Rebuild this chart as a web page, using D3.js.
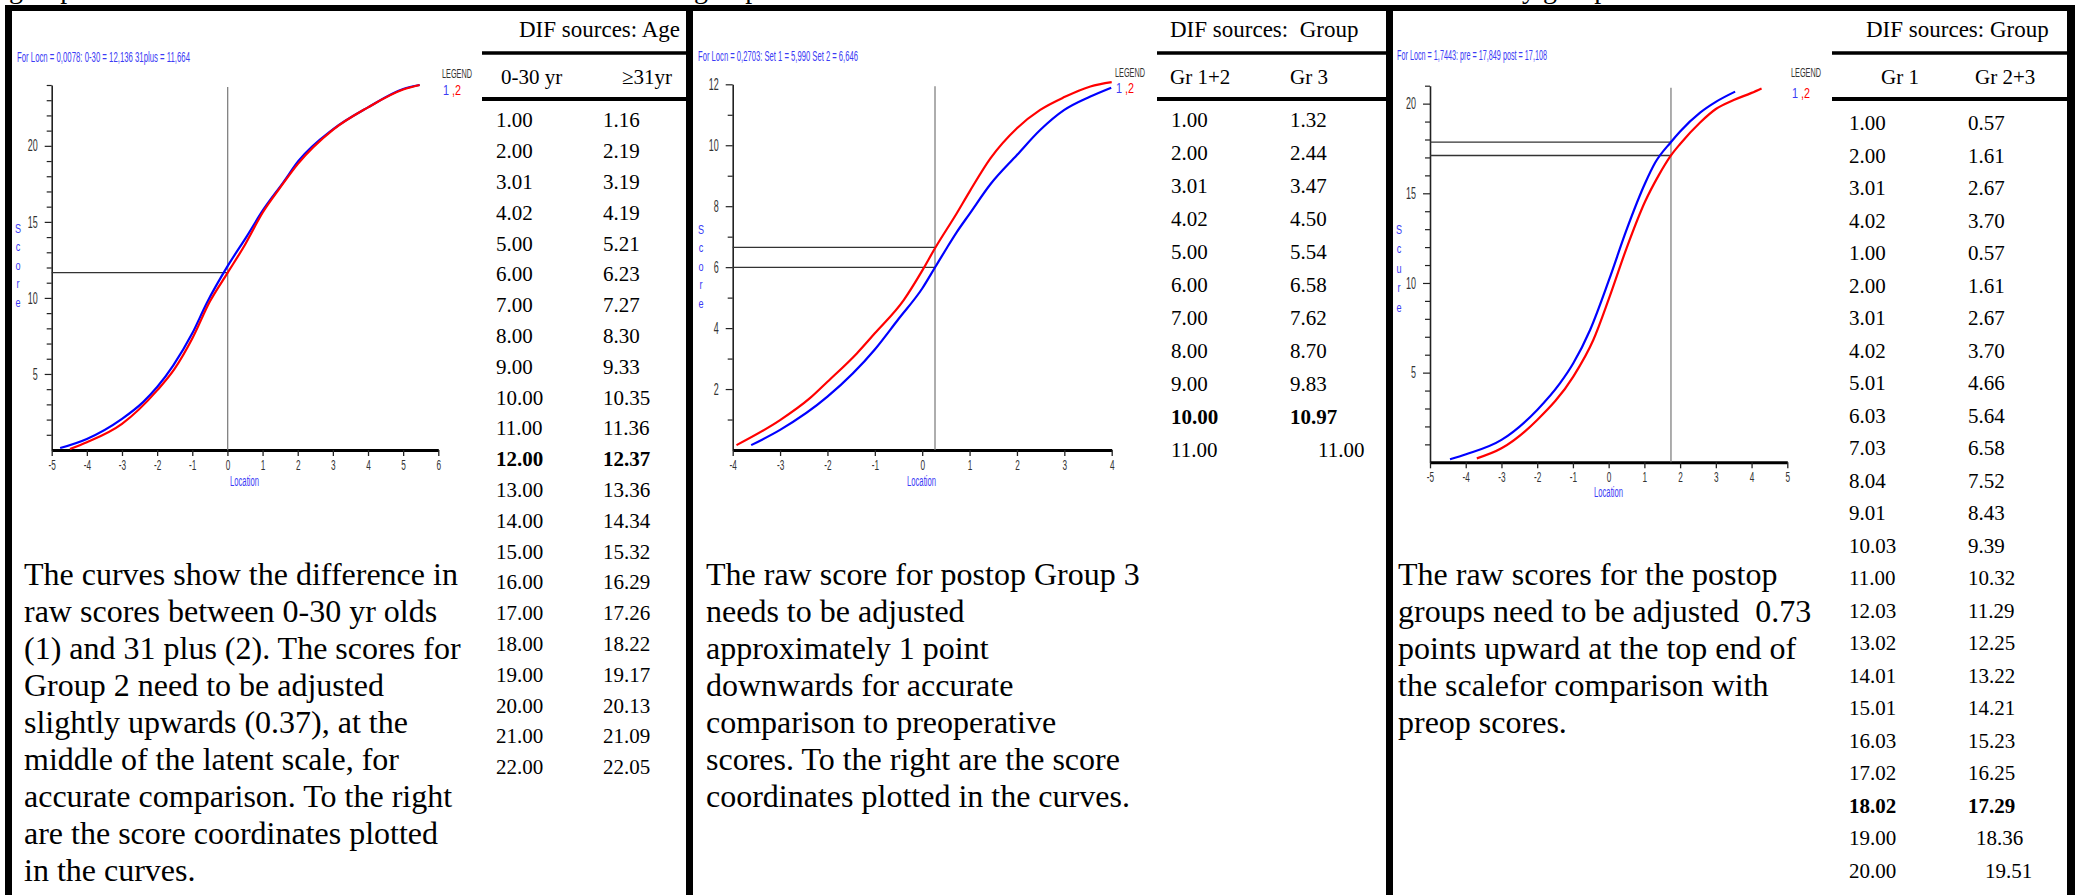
<!DOCTYPE html>
<html>
<head>
<meta charset="utf-8">
<script src="https://cdn.jsdelivr.net/npm/d3@7"></script>
<style>
  body { margin: 0; background: #fff; }
  svg { display: block; }
</style>
</head>
<body>
<svg id="chart"></svg>
<script>
const W = 2075, H = 895;
const serif = "'Liberation Serif', 'Times New Roman', serif";
const sans = "'Liberation Sans', Arial, sans-serif";
const blue = "#0000ff", red = "#ff0000", labelBlue = "#3b3bf5";

// ---------- panel 1: age (0-30 vs 31plus) ----------
const ageCurve1 = [[-4.76,0.13],[-4,0.73],[-3,2.05],[-2.4,3.15],[-2,4.14],[-1.54,5.57],[-1,7.67],[-0.59,9.65],[0,12.07],[0.55,14.05],[1.02,15.8],[1.59,17.6],[2.02,19.0],[3.01,21.1],[4,22.53],[5,23.74],[5.47,24.0]];
const ageCurve2 = [[-4.48,0.07],[-4,0.51],[-3,1.72],[-2,3.92],[-1.5,5.35],[-1,7.33],[-0.5,9.76],[0,11.63],[0.5,13.5],[1,15.6],[1.5,17.25],[2,18.8],[3,21.05],[4,22.53],[5,23.7],[5.47,24.0]];
const ageRefLoc = 0.0078;
const ageRefScores = [11.664];
const ageHeader = "For Locn = 0,0078:  0-30 = 12,136  31plus = 11,664";
const ageColHeads = ["0-30 yr", "\u226531yr"];
const ageCol1 = ["1.00","2.00","3.01","4.02","5.00","6.00","7.00","8.00","9.00","10.00","11.00","12.00","13.00","14.00","15.00","16.00","17.00","18.00","19.00","20.00","21.00","22.00"];
const ageCol2 = ["1.16","2.19","3.19","4.19","5.21","6.23","7.27","8.30","9.33","10.35","11.36","12.37","13.36","14.34","15.32","16.29","17.26","18.22","19.17","20.13","21.09","22.05"];
const ageText = ["The curves show the difference in","raw scores between 0-30 yr olds","(1) and 31 plus (2). The scores for","Group 2 need to be adjusted","slightly upwards (0.37), at the","middle of the latent scale, for","accurate comparison. To the right","are the score coordinates plotted","in the curves."];

// ---------- panel 2: postop group 3 ----------
const grpCurve1 = [[-3.61,0.16],[-3,0.66],[-2,1.75],[-1,3.3],[-0.5,4.3],[0,5.3],[0.27,5.99],[0.5,6.58],[0.73,7.15],[1,7.75],[1.44,8.72],[2,9.68],[2.49,10.5],[3,11.16],[3.55,11.6],[3.99,11.89]];
const grpCurve2 = [[-3.92,0.16],[-3,0.98],[-2.37,1.7],[-2,2.24],[-1.38,3.17],[-1,3.83],[-0.39,4.92],[0.01,5.91],[0.27,6.62],[0.73,7.77],[1,8.48],[1.44,9.57],[2,10.56],[2.49,11.16],[3,11.58],[3.55,11.93],[4,12.07]];
const grpRefLoc = 0.2703;
const grpRefScores = [5.990, 6.646];
const grpHeader = "For Locn = 0,2703:  Set 1 = 5,990  Set 2 = 6,646";
const grpColHeads = ["Gr 1+2", "Gr 3"];
const grpCol1 = ["1.00","2.00","3.01","4.02","5.00","6.00","7.00","8.00","9.00","10.00","11.00"];
const grpCol2 = ["1.32","2.44","3.47","4.50","5.54","6.58","7.62","8.70","9.83","10.97","11.00"];
const grpText = ["The raw score for postop Group 3","needs to be adjusted","approximately 1 point","downwards for accurate","comparison to preoperative","scores. To the right are the score","coordinates plotted in the curves."];

// ---------- panel 3: pre vs post ----------
const prpCurve1 = [[-4.44,0.17],[-3.99,0.45],[-3,1.25],[-2,2.92],[-1.36,4.41],[-0.99,5.52],[-0.52,7.38],[0.01,10.17],[0.5,12.96],[1.02,15.56],[1.3,16.7],[1.74,17.85],[2,18.45],[2.56,19.5],[3,20.1],[3.54,20.67]];
const prpCurve2 = [[-3.69,0.22],[-3,0.78],[-2,2.36],[-0.99,4.78],[-0.43,6.82],[0.01,9.14],[0.5,11.93],[1.02,14.54],[1.4,16.0],[1.74,17.1],[2,17.75],[2.56,18.95],[3,19.7],[3.5,20.2],[4,20.6],[4.28,20.85]];
const prpRefLoc = 1.7443;
const prpRefScores = [17.849, 17.108];
const prpHeader = "For Locn = 1,7443:  pre = 17,849  post = 17,108";
const prpColHeads = ["Gr 1", "Gr 2+3"];
const prpCol1 = ["1.00","2.00","3.01","4.02","1.00","2.00","3.01","4.02","5.01","6.03","7.03","8.04","9.01","10.03","11.00","12.03","13.02","14.01","15.01","16.03","17.02","18.02","19.00","20.00"];
const prpCol2 = ["0.57","1.61","2.67","3.70","0.57","1.61","2.67","3.70","4.66","5.64","6.58","7.52","8.43","9.39","10.32","11.29","12.25","13.22","14.21","15.23","16.25","17.29","18.36","19.51"];
const prpText = ["The raw scores for the postop","groups need to be adjusted  0.73","points upward at the top end of","the scalefor comparison with","preop scores."];

const svg = d3.select("#chart").attr("width", W).attr("height", H);
svg.append("rect").attr("width", W).attr("height", H).attr("fill", "#fff");

// caption line above the frame, cut off by the page edge as in the source
[["group", 9], ["group", 694], ["by group", 1508]].forEach(([t, x]) => {
  svg.append("text").attr("x", x).attr("y", -2)
    .style("font-family", serif).style("font-size", "28px").text(t);
});

// frame
svg.append("rect").attr("x", 5).attr("y", 5).attr("width", W - 5).attr("height", 6).attr("fill", "#000");
[[5, 7], [686, 7], [1386, 7], [2067, 8]].forEach(([x, w]) => {
  svg.append("rect").attr("x", x).attr("y", 5).attr("width", w).attr("height", H).attr("fill", "#000");
});

const panels = [
  { left: 51.7, right: 438.3, bottom: 450, top: 85, xDomain: [-5, 6], yDomain: [0, 24], yMajor: 5,
    curves: [ageCurve1, ageCurve2], refLoc: ageRefLoc, refScores: ageRefScores,
    header: ageHeader, headerX: 17, headerY: 62, headerW: 173,
    legendX: 442, legendY: 78, keyY: 95, locX: 230, locY: 486, yLabX: 18, yLabY: 233, yLabStep: 18.5, yLab: "Score",
    table: { title: "DIF sources: Age", titleX: 519, x0: 482, x1: 687, heads: ageColHeads, headX: [501, 622],
      col1: ageCol1, col2: ageCol2, c1x: 496, c2x: 603, row0: 120.4, step: 30.8, bold: 11, shift: {} },
    text: ageText, textX: 24 },
  { left: 732.7, right: 1111.7, bottom: 450, top: 84.3, xDomain: [-4, 4], yDomain: [0, 12], yMajor: 2,
    curves: [grpCurve1, grpCurve2], refLoc: grpRefLoc, refScores: grpRefScores,
    header: grpHeader, headerX: 698, headerY: 61, headerW: 160,
    legendX: 1115, legendY: 77, keyY: 93, locX: 907, locY: 486, yLabX: 701, yLabY: 234, yLabStep: 18.5, yLab: "Score",
    table: { title: "DIF sources:\u00a0 Group", titleX: 1170, x0: 1157, x1: 1387, heads: grpColHeads, headX: [1170, 1290],
      col1: grpCol1, col2: grpCol2, c1x: 1171, c2x: 1290, row0: 120.4, step: 33, bold: 9, shift: { 10: 1318 } },
    text: grpText, textX: 706 },
  { left: 1430, right: 1787.3, bottom: 462.3, top: 85.7, xDomain: [-5, 5], yDomain: [0, 21], yMajor: 5,
    curves: [prpCurve1, prpCurve2], refLoc: prpRefLoc, refScores: prpRefScores,
    header: prpHeader, headerX: 1397, headerY: 60, headerW: 150,
    legendX: 1791, legendY: 77, keyY: 98, locX: 1594, locY: 497, yLabX: 1399, yLabY: 234, yLabStep: 19.5, yLab: "Scure",
    table: { title: "DIF sources: Group", titleX: 1866, x0: 1832, x1: 2067, heads: prpColHeads, headX: [1881, 1975],
      col1: prpCol1, col2: prpCol2, c1x: 1849, c2x: 1968, row0: 123, step: 32.5, bold: 21, shift: { 22: 1976, 23: 1985 } },
    text: prpText, textX: 1398 }
];

function narrow(g, x, y, str, size, len, color) {
  return g.append("text").attr("x", x).attr("y", y)
    .attr("textLength", len).attr("lengthAdjust", "spacingAndGlyphs")
    .style("font-family", sans).style("font-size", size + "px")
    .attr("fill", color).text(str);
}

panels.forEach(p => {
  const g = svg.append("g");
  const x = d3.scaleLinear().domain(p.xDomain).range([p.left, p.right]);
  const y = d3.scaleLinear().domain(p.yDomain).range([p.bottom, p.top]);

  // y axis: a tick per unit, labels every yMajor
  const yAxis = g.append("g").attr("transform", `translate(${p.left},0)`)
    .call(d3.axisLeft(y)
      .tickValues(d3.range(p.yDomain[0] + 1, p.yDomain[1] + 1))
      .tickSize(5).tickSizeOuter(0)
      .tickFormat(d => d % p.yMajor === 0 ? d : ""));
  yAxis.select(".domain").attr("stroke", "#222").attr("stroke-width", 1.6);
  yAxis.selectAll(".tick line").attr("stroke", "#222").attr("stroke-width", 1.2)
    .attr("x2", d => d % p.yMajor === 0 ? -7 : -5);
  yAxis.selectAll(".tick text")
    .style("font-family", sans).style("font-size", "16px").attr("fill", "#333")
    .attr("transform", "scale(0.56,1)").attr("x", -14 / 0.56);

  // x axis
  const xAxis = g.append("g").attr("transform", `translate(0,${p.bottom})`)
    .call(d3.axisBottom(x)
      .tickValues(d3.range(p.xDomain[0], p.xDomain[1] + 1))
      .tickSize(6).tickSizeOuter(0)
      .tickFormat(d => String(d)));
  xAxis.select(".domain").attr("stroke", "#000").attr("stroke-width", 3);
  xAxis.selectAll(".tick line").attr("stroke", "#222").attr("stroke-width", 1.3);
  xAxis.selectAll(".tick text")
    .style("font-family", sans).style("font-size", "15px").attr("fill", "#333")
    .attr("y", 9).attr("transform", "scale(0.55,1)");

  // reference lines
  g.append("line")
    .attr("x1", x(p.refLoc)).attr("x2", x(p.refLoc))
    .attr("y1", p.top + 2).attr("y2", p.bottom)
    .attr("stroke", "#777").attr("stroke-width", 1.2);
  p.refScores.forEach(s => {
    g.append("line")
      .attr("x1", p.left).attr("x2", x(p.refLoc))
      .attr("y1", y(s)).attr("y2", y(s))
      .attr("stroke", "#333").attr("stroke-width", 1.3);
  });

  // curves
  const line = d3.line().x(d => x(d[0])).y(d => y(d[1])).curve(d3.curveMonotoneX);
  [blue, red].forEach((c, i) => {
    g.append("path").datum(p.curves[i])
      .attr("d", line).attr("fill", "none")
      .attr("stroke", c).attr("stroke-width", 2.2);
  });

  // chart texts
  narrow(g, p.headerX, p.headerY, p.header, 14, p.headerW, labelBlue);
  narrow(g, p.legendX, p.legendY, "LEGEND", 13, 30, "#333");
  const key = g.append("text").attr("x", p.legendX + 1).attr("y", p.keyY)
    .attr("textLength", 18).attr("lengthAdjust", "spacingAndGlyphs")
    .style("font-family", sans).style("font-size", "14px");
  key.append("tspan").attr("fill", labelBlue).text("1 ");
  key.append("tspan").attr("fill", red).text(",2");
  narrow(g, p.locX, p.locY, "Location", 14, 29, labelBlue);
  p.yLab.split("").forEach((ch, i) => {
    g.append("text").attr("x", p.yLabX).attr("y", p.yLabY + i * p.yLabStep)
      .attr("text-anchor", "middle")
      .attr("transform", `translate(${p.yLabX * 0.3},0) scale(0.7,1)`)
      .style("font-family", sans).style("font-size", "13px").attr("fill", labelBlue).text(ch);
  });

  // score table
  const t = p.table;
  const tg = svg.append("g").style("font-family", serif).style("font-size", "21px").attr("fill", "#000");
  tg.append("text").attr("x", t.titleX).attr("y", 37).style("font-size", "23px").text(t.title);
  [[53, 3.5], [99, 4]].forEach(([ly, w]) => {
    tg.append("line").attr("x1", t.x0).attr("x2", t.x1).attr("y1", ly).attr("y2", ly)
      .attr("stroke", "#000").attr("stroke-width", w);
  });
  t.heads.forEach((h, i) => tg.append("text").attr("x", t.headX[i]).attr("y", 84).text(h));
  t.col1.forEach((v, i) => {
    const yy = t.row0 + i * t.step + 7;
    const b = i === t.bold ? "bold" : "normal";
    tg.append("text").attr("x", t.c1x).attr("y", yy).style("font-weight", b).text(v);
    tg.append("text").attr("x", t.shift[i] || t.c2x).attr("y", yy).style("font-weight", b).text(t.col2[i]);
  });

  // explanation paragraph
  const pg = svg.append("g").style("font-family", serif).style("font-size", "32px").attr("fill", "#000");
  p.text.forEach((ln, i) => {
    pg.append("text").attr("x", p.textX).attr("y", 585 + i * 37)
      .attr("xml:space", "preserve").style("white-space", "pre").text(ln);
  });
});
</script>
</body>
</html>
